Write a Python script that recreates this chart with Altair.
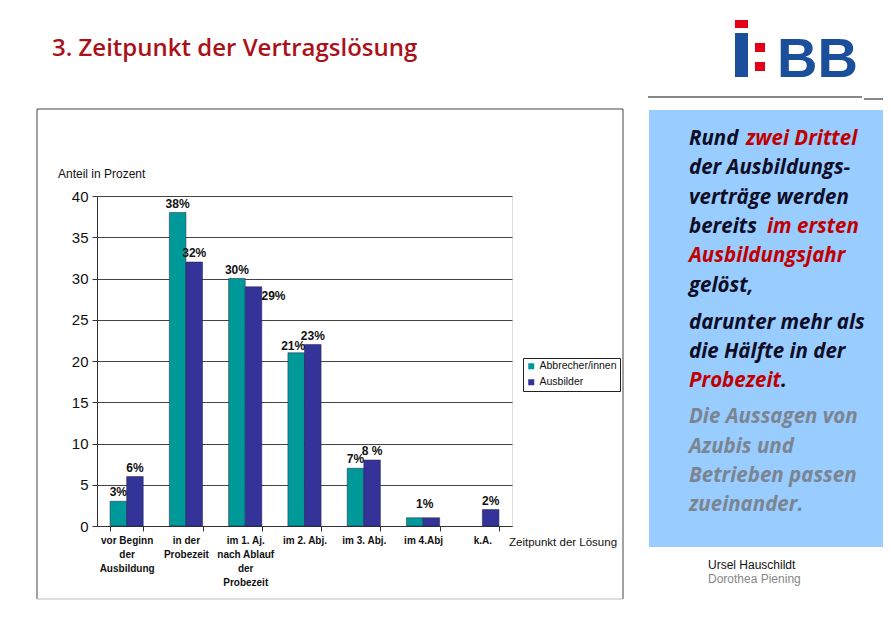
import altair as alt
import pandas as pd

# ---------------- data ----------------
categories = [
    "vor Beginn|der|Ausbildung",
    "in der|Probezeit",
    "im 1. Aj.|nach Ablauf|der|Probezeit",
    "im 2. Abj.",
    "im 3. Abj.",
    "im 4.Abj",
    "k.A.",
]
series = ["Abbrecher/innen", "Ausbilder"]
abbrecher = [3, 38, 30, 21, 7, 1, None]
ausbilder = [6, 32, 29, 22, 8, 1, 2]
labels_abbrecher = ["3%", "38%", "30%", "21%", "7%", "1%", ""]
labels_ausbilder = ["6%", "32%", "29%", "23%", "8 %", "", "2%"]
y_ticks = [0, 5, 10, 15, 20, 25, 30, 35, 40]
colors = ["#009999", "#333399"]

rows = []
for i, c in enumerate(categories):
    for s, vals, labs in ((series[0], abbrecher, labels_abbrecher), (series[1], ausbilder, labels_ausbilder)):
        if vals[i] is not None:
            rows.append({"cat": c, "series": s, "value": vals[i], "label": labs[i]})
df = pd.DataFrame(rows)

FONT = "Liberation Sans"

xenc = alt.X(
    "cat:N", sort=categories, title=None,
    scale=alt.Scale(paddingInner=0.44, paddingOuter=0.22),
    axis=alt.Axis(
        labelExpr="datum.value ? split(datum.value, '|') : ''", labelAngle=0, labelFont=FONT,
        labelFontWeight="bold", labelFontSize=10, labelLineHeight=14,
        labelPadding=4, labelBaseline="top", tickBand="extent", tickSize=5,
        tickColor="#333", domainColor="#333", grid=False, labelColor="#111",
    ),
)
xoff = alt.XOffset("series:N", sort=series, scale=alt.Scale(paddingInner=0, paddingOuter=0))
yenc = alt.Y(
    "value:Q", title=None, scale=alt.Scale(domain=[0, 40], nice=False),
    axis=alt.Axis(
        values=y_ticks, labelFont=FONT, labelFontSize=15, labelPadding=4,
        tickSize=5, tickColor="#333", domainColor="#333", gridColor="#444",
        labelColor="#111",
    ),
)

bars = alt.Chart(df).mark_bar(stroke="#222244", strokeWidth=0.5).encode(
    x=xenc, xOffset=xoff, y=yenc,
    color=alt.Color(
        "series:N", sort=series,
        scale=alt.Scale(domain=series, range=colors),
        legend=alt.Legend(
            title=None, orient="none", legendX=426, legendY=162,
            strokeColor="#222", fillColor="white", padding=3,
            symbolType="square", symbolSize=36, symbolStrokeWidth=0, labelOffset=3,
            labelFont=FONT, labelFontSize=10.5, labelColor="#111", rowPadding=5,
        ),
    ),
)

lab_base = alt.Chart(df).encode(x=xenc, xOffset=xoff, y=yenc, text="label:N")
lab_std = lab_base.transform_filter(
    "datum.label != '29%' && datum.label != '1%' && datum.label != '21%'"
).mark_text(font=FONT, fontWeight="bold", fontSize=12, dy=-9, baseline="middle", color="#111")
lab_29 = lab_base.transform_filter("datum.label == '29%'").mark_text(
    font=FONT, fontWeight="bold", fontSize=12, dx=20, dy=9, baseline="middle", color="#111")
lab_21 = lab_base.transform_filter("datum.label == '21%'").mark_text(
    font=FONT, fontWeight="bold", fontSize=12, dx=-3, dy=-7, baseline="middle", color="#111")
lab_1 = lab_base.transform_filter("datum.label == '1%'").mark_text(
    font=FONT, fontWeight="bold", fontSize=12, dx=10, dy=-14, baseline="middle", color="#111")

one = pd.DataFrame({"a": [1]})


def txt(s, x, y, size=12, color="#111", font=FONT, weight="normal", style="normal", align="left", baseline="middle"):
    return alt.Chart(one).mark_text(
        text=s, font=font, fontSize=size, color=color, fontWeight=weight,
        fontStyle=style, align=align, baseline=baseline,
    ).encode(x=alt.value(x), y=alt.value(y))


def rect(x1, x2, y1, y2, color):
    return alt.Chart(one).mark_rect(color=color).encode(
        x=alt.value(x1), x2=alt.value(x2), y=alt.value(y1), y2=alt.value(y2))


def hrule(x1, x2, y, color="#333", w=1):
    return alt.Chart(one).mark_rule(color=color, strokeWidth=w).encode(
        x=alt.value(x1), x2=alt.value(x2), y=alt.value(y))


def vrule(x, y1, y2, color="#333", w=1):
    return alt.Chart(one).mark_rule(color=color, strokeWidth=w).encode(
        x=alt.value(x), y=alt.value(y1), y2=alt.value(y2))


# plot origin is at page (97, 196)
deco_back = [
    rect(552, 786, -86, 351, "#99CCFF"),
    hrule(-60, 526, -87, "#444"),
    vrule(-60, -87, 403, "#444"),
    vrule(526, -87, 403, "#444"),
    hrule(-60, 526, 403, "#bbbbbb"),
]
deco_front = [
    # logo
    rect(638, 651, -176, -168, "#E2001A"),
    rect(638, 651, -163, -119, "#1B4F9C"),
    rect(658, 668, -153, -144, "#E2001A"),
    rect(658, 668, -134, -125, "#E2001A"),
    txt("BB", 680, -119, size=56, color="#1B4F9C", font="Liberation Sans",
        weight="bold", baseline="alphabetic"),
    hrule(551, 765, -99, "#111"),
    hrule(767, 786, -97, "#111"),
    # title
    txt("3. Zeitpunkt der Vertragslösung", -45, -140, size=24, color="#AA1118",
        font="Open Sans", weight=600, baseline="alphabetic"),
    # chart texts
    txt("Anteil in Prozent", -39, -22, size=12),
    txt("Zeitpunkt der Lösung", 412, 347, size=11.5),
    # authors
    txt("Ursel Hauschildt", 611, 369, size=12),
    txt("Dorothea Piening", 611, 383, size=12, color="#888888"),
]

BK, RD, GR = "#0D0D26", "#C00000", "#7B8591"
box_lines = [
    ("Rund ", BK, 592, -57), ("zwei Drittel", RD, 649, -57),
    ("der Ausbildungs-", BK, 592, -28),
    ("verträge werden", BK, 592, 2),
    ("bereits ", BK, 592, 31), ("im ersten", RD, 670, 31),
    ("Ausbildungsjahr", RD, 592, 60),
    ("gelöst,", BK, 592, 90),
    ("darunter mehr als", BK, 592, 127),
    ("die Hälfte in der", BK, 592, 156),
    ("Probezeit", RD, 592, 185), (".", BK, 684, 185),
    ("Die Aussagen von", GR, 592, 221),
    ("Azubis und", GR, 592, 251),
    ("Betrieben passen", GR, 592, 280),
    ("zueinander.", GR, 592, 309),
]
box_text = [txt(s, x, y, size=20.5, color=c, font="Open Sans", weight="bold", style="italic")
            for s, c, x, y in box_lines]

chart = alt.layer(*deco_back, bars, lab_std, lab_29, lab_21, lab_1, *deco_front, *box_text).properties(
    width=415, height=330,
    autosize=alt.AutoSizeParams(type="none"),
    padding={"left": 89, "top": 188, "right": 371, "bottom": 96},
).configure_view(stroke="#333", strokeWidth=1).configure(background="white")

chart.save("out.html", embed_options={"renderer": "svg", "actions": False})
